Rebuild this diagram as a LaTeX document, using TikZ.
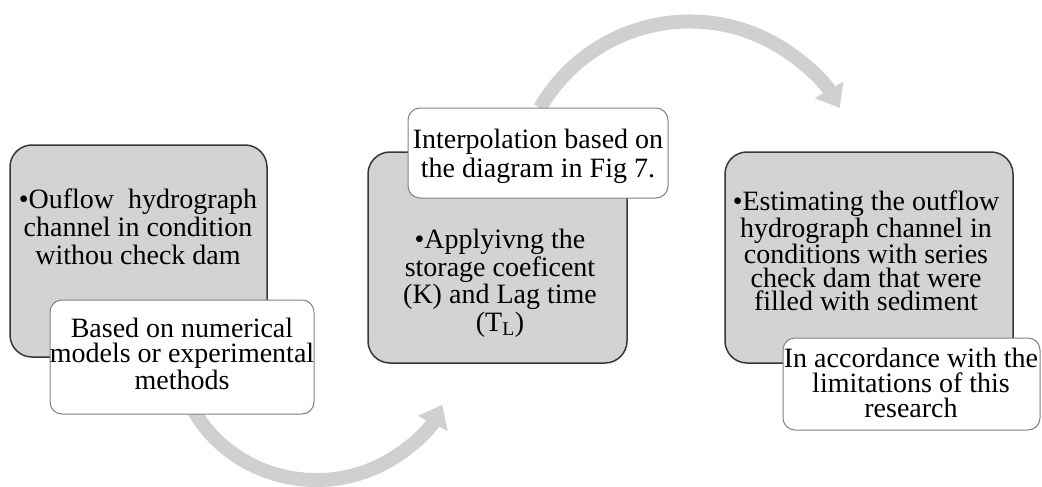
\documentclass[tikz,border=0pt]{standalone}
\usepackage{fontspec}
\setmainfont{Liberation Serif}
\usetikzlibrary{arrows.meta}
\definecolor{mgray}{RGB}{211, 211, 211}
\definecolor{mflow}{RGB}{208, 208, 208}
\definecolor{medge}{RGB}{55, 55, 55}
\definecolor{mnote}{RGB}{130, 130, 130}
\tikzset{stage/.style = {draw = medge, line width = 1.5pt, fill = mgray, rounded corners = 22pt, inner sep = 0}}
\tikzset{note/.style = {draw = mnote, line width = 1pt, fill = white, rounded corners = 12pt, inner sep = 0}}
\tikzset{txt/.style = {anchor = north, align = center, inner sep = 0, font = \fontsize{28}{#1}\selectfont}}
\tikzset{flow/.style = {draw = mflow, line width = 14pt, -{Triangle[length = 21pt, width = 32pt]}}}

\begin{document}
\begin{tikzpicture}[x = 1pt, y = -1pt]
    \useasboundingbox (0, 0) rectangle (1042, 487);

    \coordinate (loopA) at (194, 411);
    \coordinate (loopB) at (540, 108);
    \draw [flow] (loopA) arc [start angle = 151, end angle = 26, x radius = 140, y radius = 134];
    \draw [flow] (loopB) arc [start angle = 210, end angle = 330, radius = 173];

    \node [stage, minimum width = 257pt, minimum height = 212pt] (stage1) at (138.5, 251) {};
    \node [note, minimum width = 264pt, minimum height = 114pt] (note1) at (182, 357) {};
    \node [stage, minimum width = 259pt, minimum height = 211pt] (stage2) at (497.5, 257.5) {};
    \node [note, minimum width = 260pt, minimum height = 90pt] (note2) at (538, 153) {};
    \node [stage, minimum width = 288pt, minimum height = 211pt] (stage3) at (869, 257.5) {};
    \node [note, minimum width = 257pt, minimum height = 92pt] (note3) at (911.5, 384) {};

    \node [txt = 28] (stage1txt) at (138, 189) {•Ouflow \ hydrograph\\channel in condition\\withou check dam};
    \node [txt = 25] (note1txt) at (182, 318) {Based on numerical\\models or experimental\\methods};
    \node [txt = 27.5] (stage2txt) at (500, 229) {•Applyivng the\\storage coeficent\\(K) and Lag time\\(T\textsubscript{L})};
    \node [txt = 29] (note2txt) at (538, 129) {Interpolation based on\\the diagram in Fig 7.};
    \node [txt = 23.3] (stage3txt) at (866, 191) {•Estimating the outflow\\hydrograph channel in\\conditions with series\\check dam that were\\filled with sediment};
    \node [txt = 25] (note3txt) at (911, 348) {In accordance with the\\limitations of this\\research};
\end{tikzpicture}
\end{document}
